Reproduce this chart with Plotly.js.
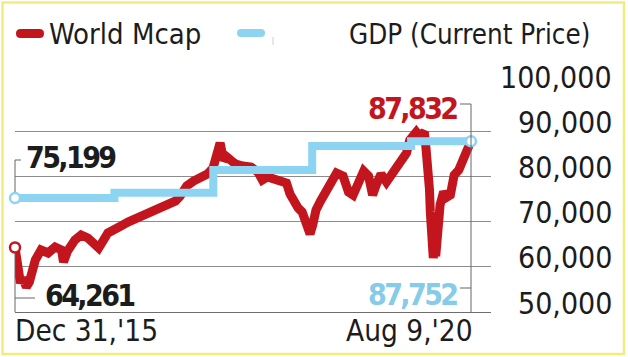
<!DOCTYPE html>
<html>
<head>
<meta charset="utf-8">
<script src="https://cdn.plot.ly/plotly-3.0.1.min.js"></script>
<style>html,body{margin:0;padding:0;background:#fff;}#chart{width:628px;height:357px;}</style>
</head>
<body>
<div id="chart"></div>
<script>
// ---- data ----
const mcapDates = ['2015-12-31','2016-01-07','2016-01-20','2016-01-28','2016-02-11','2016-02-22','2016-03-01','2016-03-15','2016-04-05','2016-05-01','2016-05-27','2016-06-20','2016-06-27','2016-07-12','2016-08-08','2016-08-31','2016-09-25','2016-10-21','2016-11-04','2016-12-08','2017-01-03','2017-01-25','2017-02-20','2017-03-15','2017-04-20','2017-05-25','2017-07-01','2017-08-15','2017-09-01','2017-09-25','2017-10-20','2017-11-15','2017-12-10','2017-12-31','2018-01-12','2018-01-26','2018-02-08','2018-02-20','2018-03-10','2018-03-25','2018-04-20','2018-05-20','2018-06-15','2018-07-01','2018-07-20','2018-08-15','2018-09-10','2018-09-28','2018-10-11','2018-10-29','2018-11-10','2018-11-25','2018-12-10','2018-12-24','2019-01-03','2019-01-15','2019-02-01','2019-02-20','2019-03-10','2019-04-01','2019-04-25','2019-05-15','2019-06-01','2019-06-20','2019-07-10','2019-07-28','2019-08-12','2019-08-25','2019-09-12','2019-10-02','2019-10-25','2019-11-10','2019-11-28','2019-12-15','2019-12-27','2020-01-10','2020-01-20','2020-01-31','2020-02-12','2020-02-19','2020-02-25','2020-03-03','2020-03-09','2020-03-12','2020-03-16','2020-03-23','2020-03-27','2020-04-01','2020-04-10','2020-04-17','2020-04-30','2020-05-13','2020-05-25','2020-06-08','2020-06-25','2020-07-08','2020-07-24','2020-08-09'];
const mcapValues = [64261,61060,56420,57500,55530,56640,58850,61500,63720,63050,64380,63720,61060,63500,65930,67040,66370,65270,64160,67480,68140,69030,69910,70580,71680,72570,73450,74560,75660,77880,78980,79870,80530,81860,84070,87390,83630,84290,83410,82740,82300,82080,80970,79200,79870,79200,78760,78540,76110,73670,73010,72120,69910,67260,69250,72570,74560,76770,78760,80750,80090,76550,75890,79200,81190,80090,75890,78100,80530,78760,80970,82520,83410,85180,88050,89160,89820,88940,89600,89820,86280,82520,77000,72120,68140,61950,63720,62390,68580,73670,76550,75440,75890,80310,81420,83630,85400,87832];
const gdpDates = ['2015-12-31','2017-01-01','2018-01-01','2019-01-01','2020-01-01','2020-08-09'];
const gdpValues = [75199,76370,81400,86700,87752,87752];
const yTickValues = [50000,60000,70000,80000,90000,100000];
const xLabels = ["Dec 31,'15","Aug 9,'20"];
const legendLabels = ['World Mcap','GDP (Current Price)'];

// ---- styles ----
const RED = '#c2151d', BLUE = '#8dd3f2', BLUE_TXT = '#86cbe8', DARK = '#1c1c1c';
const cond = '"DejaVu Sans Condensed", "DejaVu Sans", sans-serif';
const fmt = v => v.toLocaleString('en-US');
const tight = s => '<span style="letter-spacing:-2.6px">' + s + '</span>';

// pixel -> paper helpers (plot area: x 15..491, y 86..312)
const X0 = 15, PW = 476, Y0 = 312, PH = 226;
const px = x => (x - X0) / PW;
const py = y => (Y0 - y) / PH;

function pill(x1, x2, yc, h) {
  const r = h / 2;
  const P = (x, y) => px(x) + ',' + py(y);
  return 'M' + P(x1 + r, yc - r) + ' L' + P(x2 - r, yc - r) + ' Q' + P(x2, yc - r) + ' ' + P(x2, yc) +
    ' Q' + P(x2, yc + r) + ' ' + P(x2 - r, yc + r) + ' L' + P(x1 + r, yc + r) +
    ' Q' + P(x1, yc + r) + ' ' + P(x1, yc) + ' Q' + P(x1, yc - r) + ' ' + P(x1 + r, yc - r) + ' Z';
}
function seg(x1, y1, x2, y2, color, w) {
  return {type: 'line', xref: 'paper', yref: 'paper', x0: px(x1), y0: py(y1), x1: px(x2), y1: py(y2),
    line: {color: color || '#666', width: w || 1}};
}

const traces = [
  {x: mcapDates, y: mcapValues, type: 'scatter', mode: 'lines',
   line: {color: RED, width: 9}, hoverinfo: 'skip'},
  {x: gdpDates, y: gdpValues, type: 'scatter', mode: 'lines',
   line: {color: BLUE, width: 8, shape: 'hv'}, hoverinfo: 'skip'},
  {x: [mcapDates[0]], y: [mcapValues[0]], type: 'scatter', mode: 'markers', cliponaxis: false,
   marker: {size: 10, color: '#fff', line: {color: RED, width: 2.5}}, hoverinfo: 'skip'},
  {x: [gdpDates[0], gdpDates[gdpDates.length - 1]], y: [gdpValues[0], gdpValues[gdpValues.length - 1]],
   type: 'scatter', mode: 'markers', cliponaxis: false,
   marker: {size: 10, color: '#fff', line: {color: BLUE, width: 2.5}}, hoverinfo: 'skip'}
];

const annotations = [];
// y tick labels (right side, right aligned)
yTickValues.forEach(v => annotations.push({
  text: fmt(v), x: px(614), xref: 'paper', xanchor: 'right', y: v, yref: 'y', yanchor: 'middle',
  yshift: 9, showarrow: false, font: {family: cond, size: 30, color: DARK}
}));
// x labels
annotations.push({text: xLabels[0], x: mcapDates[0], xref: 'x', xanchor: 'left', xshift: -2,
  y: py(331), yref: 'paper', yanchor: 'middle', showarrow: false, font: {family: cond, size: 29.5, color: DARK}});
annotations.push({text: xLabels[1], x: mcapDates[mcapDates.length - 1], xref: 'x', xanchor: 'right', xshift: 4,
  y: py(331), yref: 'paper', yanchor: 'middle', showarrow: false, font: {family: cond, size: 29.5, color: DARK}});
// legend text
annotations.push({text: legendLabels[0], x: px(47), xref: 'paper', xanchor: 'left', y: py(34), yref: 'paper',
  yanchor: 'middle', showarrow: false, font: {family: cond, size: 29, color: DARK}});
annotations.push({text: legendLabels[1], x: px(592), xref: 'paper', xanchor: 'right', y: py(34), yref: 'paper',
  yanchor: 'middle', showarrow: false, font: {family: cond, size: 27.5, color: DARK}});
// value callouts
const bold = (c) => ({family: cond, size: 30, color: c, weight: 700});
annotations.push({text: tight(fmt(gdpValues[0])), x: px(24), xref: 'paper', xanchor: 'left', y: py(157), yref: 'paper',
  yanchor: 'middle', showarrow: false, font: bold(DARK)});
annotations.push({text: tight(fmt(mcapValues[0])), x: px(43), xref: 'paper', xanchor: 'left', y: py(295), yref: 'paper',
  yanchor: 'middle', showarrow: false, font: bold(DARK)});
annotations.push({text: tight(fmt(mcapValues[mcapValues.length - 1])), x: px(459), xref: 'paper', xanchor: 'right', y: py(108), yref: 'paper',
  yanchor: 'middle', showarrow: false, font: bold(RED)});
annotations.push({text: tight(fmt(gdpValues[gdpValues.length - 1])), x: px(459), xref: 'paper', xanchor: 'right', y: py(294), yref: 'paper',
  yanchor: 'middle', showarrow: false, font: bold(BLUE_TXT)});

const shapes = [
  // frame
  {type: 'rect', xref: 'paper', yref: 'paper', x0: px(2.5), x1: px(624), y0: py(2.5), y1: py(354),
   line: {color: '#f2ed7a', width: 2.5}, layer: 'below'},
  // legend swatches
  {type: 'path', xref: 'paper', yref: 'paper', path: pill(16, 44, 33.5, 9), fillcolor: RED, line: {width: 0}},
  {type: 'path', xref: 'paper', yref: 'paper', path: pill(237, 265, 33, 8), fillcolor: BLUE, line: {width: 0}},
  seg(273, 37, 273, 45, '#cfcfcf', 1),
  // callout brackets
  seg(15, 160, 15, 192), seg(15, 160, 21, 160),
  seg(15, 253, 15, 312), seg(15, 298, 35, 298),
  seg(460, 104, 471, 104), seg(471, 104, 471, 312), seg(460, 288, 471, 288)
];

const layout = {
  width: 628, height: 357,
  margin: {l: 15, r: 137, t: 86, b: 45, pad: 0},
  paper_bgcolor: '#fff', plot_bgcolor: '#fff',
  showlegend: false,
  xaxis: {type: 'date', range: ['2015-12-31', '2020-10-22'], showgrid: false, zeroline: false,
    showticklabels: false, ticks: '', showline: true, linecolor: '#6e6e6e', linewidth: 1.2, fixedrange: true},
  yaxis: {range: [50000, 100000], tickvals: yTickValues, showticklabels: false, ticks: '',
    showgrid: true, gridcolor: '#8c8c8c', gridwidth: 1.2, zeroline: false, showline: false, fixedrange: true},
  annotations: annotations,
  shapes: shapes
};

Plotly.newPlot('chart', traces, layout, {staticPlot: true, displayModeBar: false});
</script>
</body>
</html>
